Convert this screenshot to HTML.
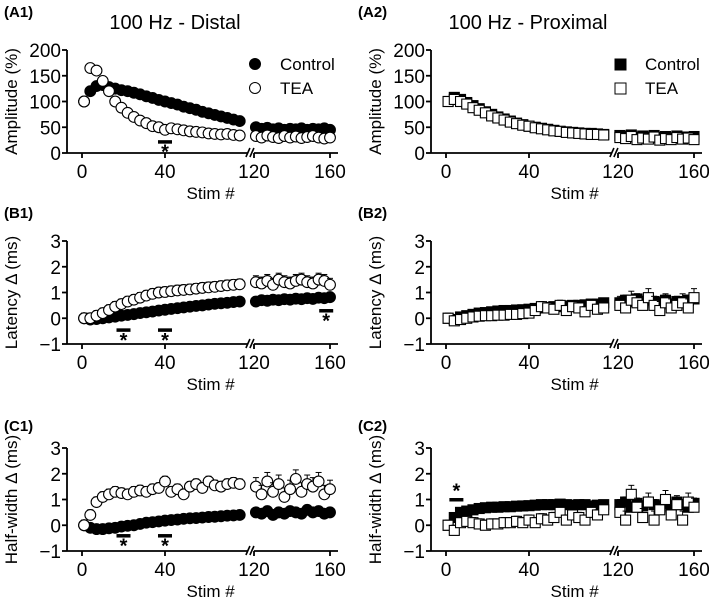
<!DOCTYPE html>
<html><head><meta charset="utf-8"><style>
html,body{margin:0;padding:0;background:#fff}
svg{display:block;font-family:"Liberation Sans",Arial,sans-serif}
</style></head><body>
<svg id="fig" width="709" height="608" viewBox="0 0 709 608" xmlns="http://www.w3.org/2000/svg"></svg>
<script>
const stims1 = [1,4,7,10,13,16,19,22,25,28,31,34,37,40,43,46,49,52,55,58,61,64,67,70,73,76];
const stims2 = [121,124,127,130,133,136,139,142,145,148,151,154,157,160];
const xTicks = [0,40,120,160];
const xTickLabels = ["0","40","120","160"];
const ampTicks = [0,50,100,150,200];
const deltaTicks = [-1,0,1,2,3];

const a1Control = [100,120,130,132,128,125,122,120,117,114,110,107,103,100,97,94,90,87,84,80,77,74,71,68,65,62, 50,47,49,46,48,45,47,46,48,45,47,46,48,45];
const a1Tea = [100,165,160,140,120,100,88,78,70,63,58,52,50,45,48,46,44,42,41,40,38,37,36,37,35,34, 33,30,34,31,29,33,30,32,29,31,33,30,28,30];
const a2Control = [100,108,104,98,92,86,80,75,70,66,62,58,55,52,50,48,46,44,42,41,40,39,38,38,37,36, 34,32,35,30,33,31,34,30,32,29,33,31,30,32];
const a2Tea = [100,104,100,95,88,83,78,72,68,64,60,57,54,52,49,47,45,43,42,40,39,38,37,36,36,35, 30,28,32,26,29,27,31,25,28,26,30,27,29,26];
const b1Control = [0,-0.05,-0.03,0,0.03,0.06,0.1,0.13,0.16,0.2,0.23,0.26,0.3,0.33,0.36,0.39,0.42,0.45,0.48,0.5,0.53,0.56,0.58,0.6,0.63,0.65, 0.65,0.7,0.68,0.72,0.7,0.74,0.72,0.76,0.74,0.78,0.75,0.8,0.78,0.82];
const b1Tea = [0,0,0.1,0.2,0.32,0.45,0.55,0.65,0.72,0.8,0.88,0.95,1.0,1.02,1.05,1.08,1.1,1.12,1.15,1.18,1.2,1.22,1.25,1.28,1.3,1.32, 1.4,1.35,1.45,1.3,1.5,1.4,1.35,1.45,1.5,1.4,1.35,1.5,1.45,1.3];
const b2Control = [0,-0.05,0.05,0.1,0.15,0.2,0.22,0.25,0.28,0.3,0.3,0.32,0.33,0.35,0.38,0.4,0.42,0.45,0.45,0.48,0.5,0.5,0.52,0.55,0.55,0.6, 0.6,0.7,0.65,0.75,0.6,0.7,0.65,0.6,0.7,0.55,0.65,0.6,0.7,0.75];
const b2Tea = [0,-0.1,-0.05,0,0.05,0.08,0.1,0.1,0.12,0.12,0.15,0.15,0.18,0.2,0.3,0.45,0.4,0.35,0.5,0.3,0.45,0.4,0.25,0.5,0.35,0.4, 0.5,0.4,0.7,0.6,0.5,0.8,0.5,0.3,0.6,0.4,0.5,0.6,0.4,0.8];
const c1Control = [0,-0.1,-0.15,-0.15,-0.12,-0.1,-0.05,-0.02,0,0.05,0.1,0.12,0.15,0.18,0.2,0.22,0.25,0.27,0.28,0.3,0.32,0.33,0.35,0.37,0.38,0.4, 0.5,0.45,0.55,0.4,0.5,0.45,0.55,0.5,0.45,0.6,0.5,0.55,0.45,0.5];
const c1Tea = [0,0.4,0.9,1.1,1.2,1.3,1.25,1.2,1.3,1.35,1.3,1.4,1.45,1.7,1.3,1.4,1.2,1.5,1.6,1.45,1.7,1.55,1.5,1.6,1.65,1.6, 1.5,1.2,1.7,1.3,1.6,1.1,1.4,1.8,1.3,1.6,1.5,1.7,1.2,1.4];
const c2Control = [0,0.3,0.5,0.55,0.6,0.65,0.68,0.7,0.7,0.72,0.72,0.74,0.75,0.76,0.78,0.8,0.8,0.8,0.82,0.8,0.78,0.8,0.8,0.75,0.78,0.8, 0.8,0.9,0.7,0.85,0.75,0.9,0.8,0.7,0.85,0.75,0.9,0.8,0.7,0.85];
const c2Tea = [0,-0.2,0.1,0.15,0.1,0.05,0,0.05,0.05,0.1,0.1,0.15,0.1,0.2,0.1,0.25,0.2,0.3,0.5,0.2,0.4,0.3,0.2,0.5,0.4,0.6, 0.5,0.2,1.2,0.7,0.3,0.9,0.2,0.6,1.0,0.4,0.8,0.2,0.9,0.7];

const NS="http://www.w3.org/2000/svg";
const svg=document.getElementById('fig');
function el(tag,attrs,parent,txt){const e=document.createElementNS(NS,tag);for(const k in attrs)e.setAttribute(k,attrs[k]);if(txt!==undefined)e.textContent=txt;(parent||svg).appendChild(e);return e;}

function xScale(s,off){return off+(s<=80?82+s*2.075:254+(s-120)*1.9);}
function makeY(vmin,vmax,ybot,ytop){return v=>ybot-(v-vmin)/(vmax-vmin)*(ybot-ytop);}

const stims=stims1.concat(stims2);

function panel(id,off,ytop,ybot,vmin,vmax,ticks,ytitle,series,errs,square){
  const g=el('g',{});
  
  
  const y=makeY(vmin,vmax,ybot,ytop);
  const ax=67+off;
  const ya=el('line',{x1:ax,y1:ytop,x2:ax,y2:ybot,stroke:'#000','stroke-width':1.8},g);
  
  
  ticks.forEach(t=>{
    el('line',{x1:ax-5,y1:y(t),x2:ax,y2:y(t),stroke:'#000','stroke-width':1.8},g);
    const tl=el('text',{x:ax-6,y:y(t)+7,'text-anchor':'end','font-size':19},g,t<0?'\u2212'+Math.abs(t):String(t));
    
    
  });
  const brk=xScale(79,off)+2;
  el('line',{x1:ax,y1:ybot,x2:brk,y2:ybot,stroke:'#000','stroke-width':1.8},g);
  el('line',{x1:brk+6,y1:ybot,x2:338+off,y2:ybot,stroke:'#000','stroke-width':1.8},g);
  el('line',{x1:brk-2,y1:ybot+4,x2:brk+2,y2:ybot-5,stroke:'#000','stroke-width':1.6},g);
  el('line',{x1:brk+2,y1:ybot+4,x2:brk+6,y2:ybot-5,stroke:'#000','stroke-width':1.6},g);
  const xpos=[xScale(0,off),xScale(40,off),xScale(120,off),xScale(160,off)];
  xTicks.forEach((t,i)=>{
    el('line',{x1:xpos[i],y1:ybot,x2:xpos[i],y2:ybot+5,stroke:'#000','stroke-width':1.8},g);
    const tl=el('text',{x:xpos[i],y:ybot+25,'text-anchor':'middle','font-size':19},g,xTickLabels[i]);
    
    
  });
  const xt=el('text',{x:xScale(62,off),y:ybot+46,'text-anchor':'middle','font-size':17},g,'Stim #');
  
  
  const cy=(ytop+ybot)/2;
  const yt=el('text',{x:0,y:0,'text-anchor':'middle','font-size':17,transform:`translate(${17+off},${cy}) rotate(-90)`},g,ytitle);
  
  
  series.forEach((vals,si)=>{
    const sg=el('g',{},g);
    
    
    const fill=si===0?'#000':'#fff';
    vals.forEach((v,i)=>{
      const x=xScale(stims[i],off),yy=y(v);
      const e=errs[si][i<26?0:1];
      const ey=y(v+e);
      el('line',{x1:x,y1:yy,x2:x,y2:ey,stroke:'#000','stroke-width':1},sg);
      el('line',{x1:x-3,y1:ey,x2:x+3,y2:ey,stroke:'#000','stroke-width':1},sg);
      let m;
      if(square) m=el('rect',{x:x-5,y:yy-5,width:10,height:10,fill:fill,stroke:'#000','stroke-width':1.1},sg);
      else m=el('circle',{cx:x,cy:yy,r:5.4,fill:fill,stroke:'#000','stroke-width':1.1},sg);
      
      
    });
  });
  return {y,g};
}
function sig(p,off,stim,val,above){
  const x=xScale(stim,off),yy=p.y(val);
  el('rect',{x:x-7,y:yy-1.5,width:14,height:3.5,fill:'#000'},p.g);
  el('text',{x:x,y:above?yy-2:yy+17,'text-anchor':'middle','font-size':20,'font-weight':'bold'},p.g,'*');
}
function label(txt,x,y){const t=el('text',{x:x,y:y,'font-size':15,'font-weight':'bold'},svg,txt);}

const pA1=panel('a1',0,50,153,0,200,ampTicks,'Amplitude (%)',[a1Control,a1Tea],[[4,3],[8,3]],false);
sig(pA1,0,40,22,false);
const pA2=panel('a2',364,50,153,0,200,ampTicks,'Amplitude (%)',[a2Control,a2Tea],[[6,5],[8,8]],true);
const pB1=panel('b1',0,241,344,-1,3,deltaTicks,'Latency \u0394 (ms)',[b1Control,b1Tea],[[0.05,0.08],[0.2,0.25]],false);
sig(pB1,0,20,-0.45,false);sig(pB1,0,40,-0.45,false);sig(pB1,0,158,0.3,false);
const pB2=panel('b2',364,241,344,-1,3,deltaTicks,'Latency \u0394 (ms)',[b2Control,b2Tea],[[0.1,0.2],[0.2,0.35]],true);
const pC1=panel('c1',0,448,551,-1,3,deltaTicks,'Half-width \u0394 (ms)',[c1Control,c1Tea],[[0.05,0.1],[0.2,0.35]],false);
sig(pC1,0,20,-0.4,false);sig(pC1,0,40,-0.4,false);
const pC2=panel('c2',364,448,551,-1,3,deltaTicks,'Half-width \u0394 (ms)',[c2Control,c2Tea],[[0.1,0.2],[0.2,0.35]],true);
sig(pC2,364,5,1.0,true);

label('(A1)',4,17);label('(A2)',358,17);
label('(B1)',4,218);label('(B2)',358,218);
label('(C1)',4,431);label('(C2)',358,431);
const t1=el('text',{x:175,y:29,'text-anchor':'middle','font-size':20},svg,'100 Hz - Distal');

const t2=el('text',{x:528,y:29,'text-anchor':'middle','font-size':20},svg,'100 Hz - Proximal');


const lg1=el('g',{});
el('circle',{cx:255,cy:64,r:5.5,fill:'#000',stroke:'#000'},lg1);
el('text',{x:280,y:70,'font-size':17},lg1,'Control');
el('circle',{cx:255,cy:88,r:5.5,fill:'#fff',stroke:'#000'},lg1);
el('text',{x:280,y:94,'font-size':17},lg1,'TEA');
const lg2=el('g',{});
el('rect',{x:615,y:59,width:11,height:11,fill:'#000',stroke:'#000'},lg2);
el('text',{x:645,y:70,'font-size':17},lg2,'Control');
el('rect',{x:615,y:83,width:11,height:11,fill:'#fff',stroke:'#000'},lg2);
el('text',{x:645,y:94,'font-size':17},lg2,'TEA');
</script>
</body></html>
